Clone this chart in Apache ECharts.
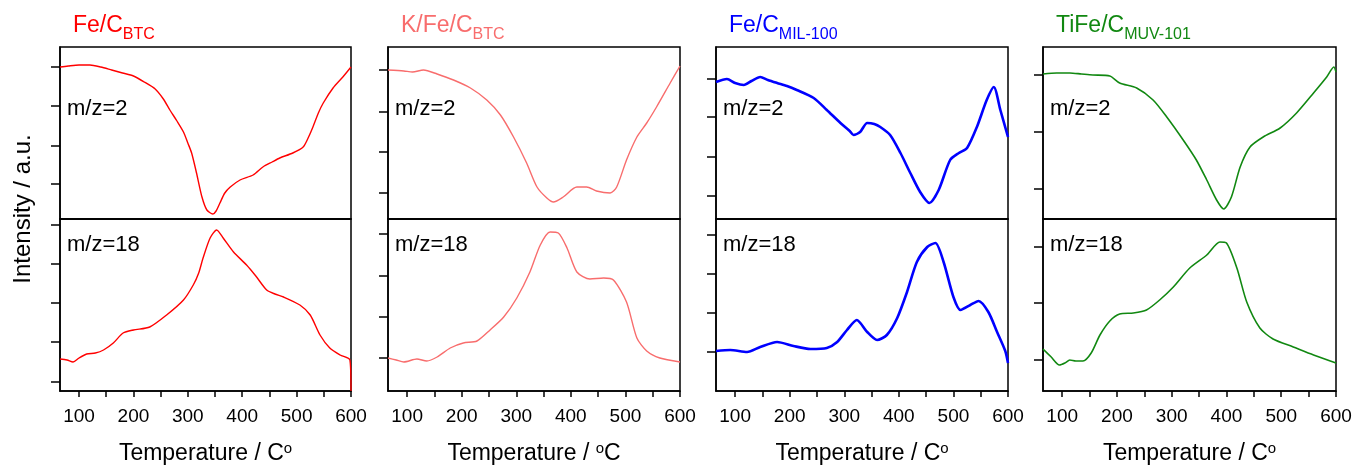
<!DOCTYPE html>
<html>
<head>
<meta charset="utf-8">
<script src="https://cdn.jsdelivr.net/npm/echarts@6/dist/echarts.min.js"></script>
<style>
  html, body { margin: 0; padding: 0; background: #fff; }
  #chart { width: 1354px; height: 465px; }
</style>
</head>
<body>
<div id="chart"></div>
<script>
// TPD-MS traces, intensity in arbitrary units
const tempTicks = [100, 150, 200, 250, 300, 350, 400, 450, 500, 550, 600];
const tempLabels = [100, 200, 300, 400, 500, 600];

// Fe/C BTC
const feBtcH2 = [[65,152],[80,153],[100,154],[120,154],[140,152],[160,149],[180,146],[200,143],[220,137],[240,130],[255,120],[267,109],[280,98],[292,87],[300,76],[307,66],[316,46],[326,22],[335,9],[346,5],[352,8],[359,16],[368,26],[378,32],[396,39],[420,44],[438,52],[455,57],[469,61],[493,66],[512,72],[522,82],[530,92],[540,106],[549,116],[567,131],[585,142],[600,152]];
const feBtcH2O = [[65,32],[78,31],[89,29],[100,33],[114,37],[130,38],[145,41],[163,48],[181,58],[200,61],[230,64],[261,76],[292,91],[310,106],[320,118],[328,133],[341,153],[353,161],[365,153],[384,139],[408,126],[425,115],[445,101],[460,97],[476,94],[506,86],[525,76],[543,56],[561,43],[580,36],[598,31],[600,0]];

// K/Fe/C BTC
const kFeBtcH2 = [[65,149],[94,148],[110,147],[130,149],[155,145],[185,139],[216,131],[246,119],[271,104],[295,82],[319,56],[338,32],[356,21],[368,17],[386,22],[411,32],[429,32],[447,28],[472,26],[484,32],[502,59],[521,82],[539,96],[557,112],[582,136],[600,153]];
const kFeBtcH2O = [[65,33],[80,31],[94,29],[118,32],[136,30],[155,34],[179,43],[203,48],[228,50],[252,61],[277,74],[301,93],[325,119],[344,146],[362,159],[377,158],[393,143],[411,119],[435,112],[460,113],[478,111],[502,89],[521,53],[539,40],[563,33],[600,29]];

// Fe/C MIL-100
const feMilH2 = [[65,137],[85,140],[100,136],[116,134],[130,138],[146,142],[160,139],[177,136],[195,133],[213,129],[244,121],[268,109],[293,96],[310,88],[317,84],[329,87],[342,96],[355,95],[366,92],[384,84],[403,66],[421,46],[439,27],[456,16],[473,29],[494,59],[510,66],[525,71],[543,92],[561,119],[574,132],[586,109],[600,82]];
const feMilH2O = [[65,40],[91,41],[122,39],[146,44],[177,49],[207,45],[238,42],[268,43],[287,49],[305,61],[323,71],[342,59],[360,51],[378,56],[397,73],[415,99],[433,129],[452,144],[467,148],[482,129],[500,94],[513,81],[531,86],[546,90],[564,79],[580,59],[595,40],[600,28]];

// TiFe/C MUV-101
const tiFeMuvH2 = [[65,145],[90,146],[114,146],[135,145],[156,144],[187,143],[205,136],[236,131],[266,119],[291,102],[321,79],[345,59],[364,39],[382,19],[395,10],[409,22],[425,52],[443,72],[467,82],[498,91],[528,106],[559,126],[583,142],[596,152],[600,147]];
const tiFeMuvH2O = [[65,42],[80,34],[95,26],[105,28],[114,31],[125,30],[138,30],[153,38],[169,56],[187,70],[205,77],[230,78],[254,81],[278,91],[303,104],[333,123],[364,136],[388,149],[400,148],[419,123],[437,89],[461,63],[485,52],[522,44],[559,36],[600,28]];

// y tick positions (a.u.)
const ticksH2 = [[35,73,113,152],[26,67,107,149],[23,62,102,140],[30,87,144]];
const ticksH2O = [[9,49,88,127,166],[33,74,115,157],[39,78,117,156],[31,88,144]];

const sampleNames = [['Fe/C', 'BTC'], ['K/Fe/C', 'BTC'], ['Fe/C', 'MIL-100'], ['TiFe/C', 'MUV-101']];
const h2Data = [feBtcH2, kFeBtcH2, feMilH2, tiFeMuvH2];
const h2oData = [feBtcH2O, kFeBtcH2O, feMilH2O, tiFeMuvH2O];
const xNames = ['{m|Temperature / C}{s|o}', '{m|Temperature / }{s|o}{m|C}', '{m|Temperature / C}{s|o}', '{m|Temperature / C}{s|o}'];

const colors = ['#ff0000', '#f86d6d', '#0000ff', '#118811'];
const widths = [1.4, 1.4, 2.6, 1.6];
const lefts = [60, 388, 716, 1043];
const gw = [291, 292, 292, 293];
const FONT = 'Arial, "Liberation Sans", sans-serif';

const chart = echarts.init(document.getElementById('chart'));

let grid = [], xAxis = [], yAxis = [], series = [], title = [], graphic = [];

for (let p = 0; p < 4; p++) {
  for (let r = 0; r < 2; r++) {
    const idx = p * 2 + r;
    grid.push({
      left: lefts[p], width: gw[p], top: r === 0 ? 47 : 219, height: 172,
      show: true, borderColor: '#000', borderWidth: 1.5,
      containLabel: false, outerBoundsMode: 'none'
    });
    const bottom = r === 1;
    xAxis.push({
      type: 'value', gridIndex: idx, min: 65, max: 600,
      axisLine: { show: true, onZero: false, lineStyle: { color: '#000', width: 1.5 } },
      axisTick: { show: bottom, customValues: tempTicks, length: 6, lineStyle: { color: '#000', width: 1.5 } },
      axisLabel: { show: bottom, customValues: tempLabels, color: '#000', fontSize: 19, fontFamily: FONT, margin: 16 },
      splitLine: { show: false },
      name: bottom ? xNames[p] : '',
      nameLocation: 'middle', nameGap: 50,
      nameTextStyle: {
        color: '#000', fontFamily: FONT,
        rich: {
          m: { fontSize: 23, fontFamily: FONT, color: '#000', lineHeight: 25 },
          s: { fontSize: 15, fontFamily: FONT, color: '#000', lineHeight: 15, verticalAlign: 'top' }
        }
      }
    });
    yAxis.push({
      type: 'value', gridIndex: idx, min: 0, max: 172,
      axisLine: { show: true, lineStyle: { color: '#000', width: 1.5 } },
      axisTick: { show: true, customValues: r === 0 ? ticksH2[p] : ticksH2O[p], length: 9, lineStyle: { color: '#000', width: 1.5 } },
      axisLabel: { show: false },
      splitLine: { show: false }
    });
    series.push({
      type: 'line', xAxisIndex: idx, yAxisIndex: idx,
      data: r === 0 ? h2Data[p] : h2oData[p],
      showSymbol: false, smooth: 0.25, silent: true,
      lineStyle: { color: colors[p], width: widths[p] }
    });
    graphic.push({
      type: 'text', x: lefts[p] + 7, y: r === 0 ? 109 : 245,
      style: { text: r === 0 ? 'm/z=2' : 'm/z=18', font: '22px ' + FONT, fill: '#000', verticalAlign: 'middle' }
    });
  }
  title.push({
    left: lefts[p] + 8, top: 13,
    text: '{m|' + sampleNames[p][0] + '}{s|' + sampleNames[p][1] + '}',
    textStyle: {
      fontWeight: 'normal',
      rich: {
        m: { fontSize: 23, fontFamily: FONT, fontWeight: 'normal', color: colors[p], lineHeight: 25, padding: [0, 0, 9, 0] },
        s: { fontSize: 16, fontFamily: FONT, fontWeight: 'normal', color: colors[p], lineHeight: 16, verticalAlign: 'bottom' }
      }
    }
  });
}

graphic.push({
  type: 'text', x: 23, y: 209, rotation: Math.PI / 2,
  style: { text: 'Intensity / a.u.', font: '24px ' + FONT, fill: '#000', align: 'center', verticalAlign: 'middle' }
});

chart.setOption({
  backgroundColor: '#fff',
  animation: false,
  title: title,
  grid: grid,
  xAxis: xAxis,
  yAxis: yAxis,
  series: series,
  graphic: graphic
});
</script>
</body>
</html>
